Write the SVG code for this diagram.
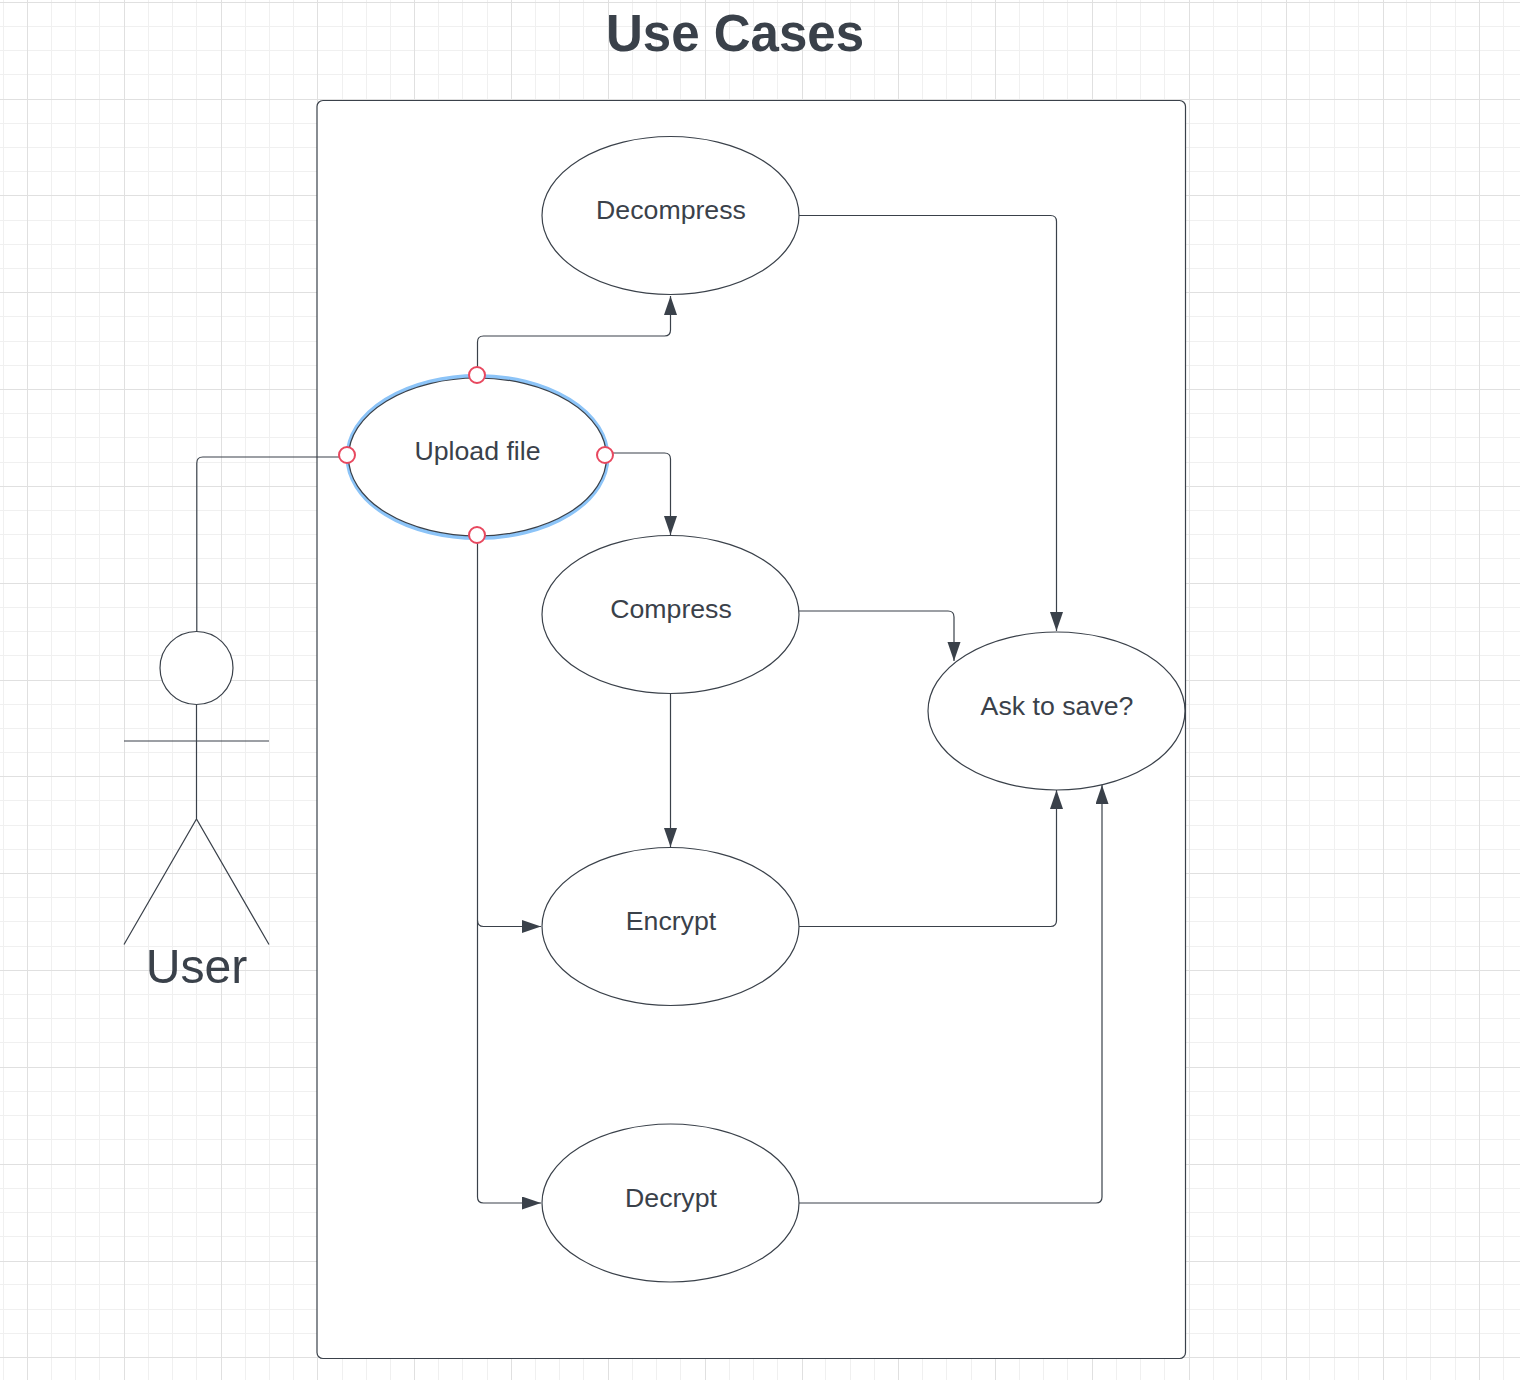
<svg xmlns="http://www.w3.org/2000/svg" width="1520" height="1380" viewBox="0 0 1520 1380">
<style>
text{font-family:"Liberation Sans",Arial,sans-serif;fill:#3a414a;text-anchor:middle}
.lbl{font-size:26.7px}
.shape{fill:#fff;stroke:#3a414a;stroke-width:1.2}
.open{fill:none;stroke:#3a414a;stroke-width:1.2}
.conn{fill:none;stroke:#3a414a;stroke-width:1.2;marker-end:url(#arrow)}
.plain{fill:none;stroke:#3a414a;stroke-width:1.2}
.handle{fill:#fff;stroke:#e8485f;stroke-width:2}
.minor{fill:none;stroke:#f0f0f0;stroke-width:1;shape-rendering:crispEdges}
.major{fill:none;stroke:#e0e0e0;stroke-width:1;shape-rendering:crispEdges}
</style>
<defs>
<marker id="arrow" markerUnits="userSpaceOnUse" markerWidth="20" markerHeight="14" refX="19" refY="6.5" orient="auto">
<path d="M0 0L19 6.5L0 13Z" fill="#3a414a"/>
</marker>
</defs>
<rect width="1520" height="1380" fill="#fff"/>
<g id="grid">
<path class="minor" d="M3.5 0V1380M51.5 0V1380M75.5 0V1380M99.5 0V1380M148.5 0V1380M172.5 0V1380M196.5 0V1380M245.5 0V1380M269.5 0V1380M293.5 0V1380M342.5 0V1380M366.5 0V1380M390.5 0V1380M438.5 0V1380M462.5 0V1380M487.5 0V1380M535.5 0V1380M559.5 0V1380M583.5 0V1380M632.5 0V1380M656.5 0V1380M680.5 0V1380M729.5 0V1380M753.5 0V1380M777.5 0V1380M825.5 0V1380M850.5 0V1380M874.5 0V1380M922.5 0V1380M946.5 0V1380M971.5 0V1380M1019.5 0V1380M1043.5 0V1380M1067.5 0V1380M1116.5 0V1380M1140.5 0V1380M1164.5 0V1380M1213.5 0V1380M1237.5 0V1380M1261.5 0V1380M1309.5 0V1380M1334.5 0V1380M1358.5 0V1380M1406.5 0V1380M1430.5 0V1380M1455.5 0V1380M1503.5 0V1380"/>
<path class="minor" d="M0 26.5H1520M0 50.5H1520M0 74.5H1520M0 123.5H1520M0 147.5H1520M0 171.5H1520M0 220.5H1520M0 244.5H1520M0 268.5H1520M0 316.5H1520M0 341.5H1520M0 365.5H1520M0 413.5H1520M0 437.5H1520M0 462.5H1520M0 510.5H1520M0 534.5H1520M0 558.5H1520M0 607.5H1520M0 631.5H1520M0 655.5H1520M0 704.5H1520M0 728.5H1520M0 752.5H1520M0 800.5H1520M0 825.5H1520M0 849.5H1520M0 897.5H1520M0 921.5H1520M0 946.5H1520M0 994.5H1520M0 1018.5H1520M0 1042.5H1520M0 1091.5H1520M0 1115.5H1520M0 1139.5H1520M0 1188.5H1520M0 1212.5H1520M0 1236.5H1520M0 1284.5H1520M0 1309.5H1520M0 1333.5H1520"/>
<path class="major" d="M27.5 0V1380M124.5 0V1380M221.5 0V1380M317.5 0V1380M414.5 0V1380M511.5 0V1380M608.5 0V1380M705.5 0V1380M802.5 0V1380M898.5 0V1380M995.5 0V1380M1092.5 0V1380M1189.5 0V1380M1286.5 0V1380M1383.5 0V1380M1479.5 0V1380"/>
<path class="major" d="M0 2.5H1520M0 99.5H1520M0 195.5H1520M0 292.5H1520M0 389.5H1520M0 486.5H1520M0 583.5H1520M0 680.5H1520M0 776.5H1520M0 873.5H1520M0 970.5H1520M0 1067.5H1520M0 1164.5H1520M0 1261.5H1520M0 1357.5H1520"/>
</g>
<g id="title"><text x="735" y="50.500" font-size="51" font-weight="700">Use Cases</text></g>
<g id="system"><rect class="shape" x="317" y="100.500" width="868.500" height="1258" rx="6"/></g>
<g id="connectors">
<path class="plain" d="M196.800 632V463Q196.800 457 202.800 457H347"/>
<path class="conn" d="M477.500 376V342Q477.500 336 483.500 336H664.500Q670.500 336 670.500 330V296"/>
<path class="conn" d="M606 453H664.500Q670.500 453 670.500 459V535"/>
<path class="conn" d="M477.500 537V1197Q477.500 1203 483.500 1203H541"/>
<path class="conn" d="M477.500 920.500Q477.500 926.500 483.500 926.500H541"/>
<path class="conn" d="M799 611H948Q954 611 954 617V661"/>
<path class="conn" d="M799 215.500H1050.500Q1056.500 215.500 1056.500 221.500V631"/>
<path class="conn" d="M670.500 693V847"/>
<path class="conn" d="M799 926.500H1050.500Q1056.500 926.500 1056.500 920.500V790"/>
<path class="conn" d="M799 1203H1096Q1102 1203 1102 1197V785"/>
</g>
<g id="user">
<circle class="shape" cx="196.500" cy="668" r="36.500"/>
<path class="open" d="M196.500 705V819M124 741H269M124 944.500L196.500 819L269 944.500"/>
<text x="196.500" y="983" font-size="48.200">User</text>
</g>
<g id="upload">
<ellipse cx="477.500" cy="457" rx="130" ry="81" fill="none" stroke="#8cc4f8" stroke-width="4"/>
<ellipse class="shape" cx="477.500" cy="457" rx="129" ry="79"/>
<text class="lbl" x="477.500" y="460">Upload file</text>
<circle class="handle" cx="477" cy="375" r="8"/>
<circle class="handle" cx="347" cy="455" r="8"/>
<circle class="handle" cx="605" cy="455" r="8"/>
<circle class="handle" cx="477" cy="535" r="8"/>
</g>
<g id="decompress"><ellipse class="shape" cx="670.500" cy="215.500" rx="128.500" ry="79"/><text class="lbl" x="671" y="218.500">Decompress</text></g>
<g id="compress"><ellipse class="shape" cx="670.500" cy="614.500" rx="128.500" ry="79"/><text class="lbl" x="671" y="617.500">Compress</text></g>
<g id="encrypt"><ellipse class="shape" cx="670.500" cy="926.500" rx="128.500" ry="79"/><text class="lbl" x="671" y="929.500">Encrypt</text></g>
<g id="decrypt"><ellipse class="shape" cx="670.500" cy="1203" rx="128.500" ry="79"/><text class="lbl" x="671" y="1206.500">Decrypt</text></g>
<g id="ask"><ellipse class="shape" cx="1056.500" cy="711" rx="128.500" ry="79"/><text class="lbl" x="1057" y="714.500">Ask to save?</text></g>
</svg>
